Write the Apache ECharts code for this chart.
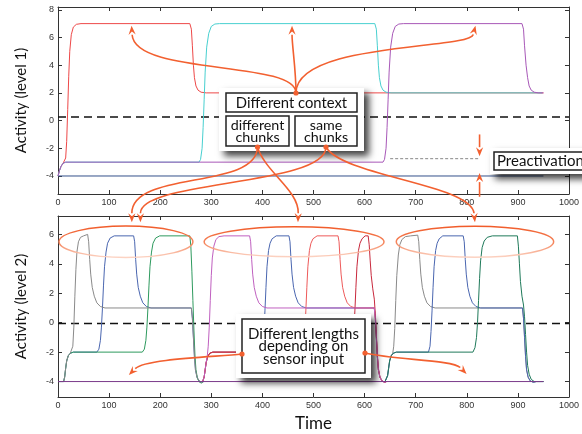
<!DOCTYPE html>
<html><head><meta charset="utf-8">
<script src="https://cdn.jsdelivr.net/npm/echarts@6/dist/echarts.min.js"></script>
<style>html,body{margin:0;padding:0;background:#fff}#main{width:582px;height:434px}</style>
</head><body><div id="main"></div><script>
// ---------- data ----------
const level1Ticks = [-4, -2, 0, 2, 4, 6, 8];
const level2Ticks = [-4, -2, 0, 2, 4, 6];

// Level 1 activity
const L1_blue = [[0,-4],[950,-4]];
const L1_red = [[0,-4],[3,-3.6],[6,-3.3],[10,-3.08],[13,-3.0],[15,-2.7],[17,-1.5],[19,0.8],[21,3.2],[23,5],[26,6.2],[30,6.75],[36,6.95],[45,7],[258,7],[261,6.6],[263,5.4],[265,4],[267,3.1],[270,2.5],[274,2.2],[280,2.05],[290,2],[950,2]];
const L1_cyan = [[0,-4],[3,-3.6],[6,-3.3],[10,-3.08],[15,-3],[276,-3],[279,-2.8],[282,-2],[284,-0.5],[286,1.5],[288,3.5],[291,5.3],[295,6.3],[300,6.8],[307,6.97],[316,7],[620,7],[623,6.6],[625,5.4],[627,4],[629,3.1],[632,2.5],[636,2.2],[642,2.05],[652,2],[948,2]];
const L1_purple = [[0,-4],[3,-3.6],[6,-3.3],[10,-3.08],[15,-3],[636,-3],[639,-2.8],[642,-2],[644,-0.5],[646,1.5],[648,3.5],[651,5.3],[655,6.3],[660,6.8],[667,6.97],[676,7],[908,7],[911,6.6],[913,5.4],[916,4],[919,3.1],[922,2.5],[926,2.2],[932,2.05],[940,2],[950,2]];
const L1_threshold = [[0,0.25],[1000,0.25]];
const L1_preactivation = [[650,-2.75],[824,-2.75]];

// Level 2 activity, chunk group 1
const L2_g1_blue = [[0,-4],[11,-4],[13,-3.7],[15,-3.1],[17,-2.6],[20,-2.25],[24,-2.08],[30,-2],[76,-2],[80,-1.8],[83,-1.2],[85,-0.3],[87,1],[89,2.5],[91,3.8],[94,4.8],[97,5.4],[102,5.75],[110,5.9],[148,5.9],[150,5.5],[152,4.3],[154,3.3],[157,2.4],[161,1.8],[166,1.35],[173,1.1],[182,1],[261,1],[263,0.3],[265,-1],[267,-2.3],[269,-3.2],[272,-3.7],[276,-3.95],[281,-4.05],[285,-4]];
const L2_g1_green = [[0,-4],[11,-4],[13,-3.7],[15,-3.1],[17,-2.6],[20,-2.25],[24,-2.08],[30,-2],[165,-2],[169,-1.8],[172,-1.2],[174,-0.3],[176,1],[178,2.5],[180,3.8],[183,4.8],[186,5.4],[191,5.75],[199,5.9],[258,5.9],[260,5.2],[262,3.5],[264,1.5],[266,-0.5],[268,-2.2],[270,-3.2],[273,-3.8],[277,-4.05],[281,-4.1],[285,-4]];
const L2_g1_gray = [[0,-4],[11,-4],[13,-3.7],[15,-3.1],[17,-2.6],[20,-2.25],[24,-2.08],[27,-2],[29,-1.6],[31,-0.3],[33,1.8],[35,3.6],[37,4.8],[40,5.5],[44,5.8],[50,5.9],[58,6],[60,5.5],[62,4.3],[64,3.3],[67,2.4],[71,1.8],[76,1.35],[83,1.1],[92,1],[261,1],[263,0.3],[265,-1],[267,-2.3],[269,-3.2],[272,-3.7],[276,-3.95],[281,-4.05],[285,-4]];
// group 2
const L2_g2_blue = [[283,-4],[286,-3.7],[288,-3.2],[290,-2.7],[293,-2.3],[297,-2.08],[303,-2],[398,-2],[401,-1.6],[403,-0.6],[405,0.8],[407,2.4],[409,3.8],[412,4.9],[415,5.4],[419,5.7],[427,5.9],[452,5.9],[454,5.5],[456,4.3],[458,3.3],[461,2.4],[465,1.8],[470,1.35],[477,1.1],[486,1],[619,1],[621,0.3],[623,-1],[625,-2.3],[627,-3.2],[630,-3.7],[634,-3.95],[639,-4.05],[643,-4]];
const L2_g2_red = [[283,-4],[286,-3.7],[288,-3.2],[290,-2.7],[293,-2.3],[297,-2.08],[303,-2],[478,-2],[481,-1.6],[483,-0.6],[485,0.8],[487,2.4],[489,3.8],[492,4.9],[495,5.4],[499,5.7],[507,5.9],[548,5.9],[550,5.5],[552,4.3],[554,3.3],[557,2.4],[561,1.8],[566,1.35],[573,1.1],[582,1],[619,1],[621,0.3],[623,-1],[625,-2.3],[627,-3.2],[630,-3.7],[634,-3.95],[639,-4.05],[643,-4]];
const L2_g2_crimson = [[283,-4],[286,-3.7],[288,-3.2],[290,-2.7],[293,-2.3],[297,-2.08],[303,-2],[574,-2],[577,-1.6],[579,-0.6],[581,0.8],[583,2.4],[585,3.8],[588,4.9],[591,5.4],[595,5.7],[601,5.9],[607,5.9],[609,5.3],[611,4.2],[613,3.2],[616,2.3],[619,1.6],[621,0.6],[623,-0.8],[625,-2.2],[627,-3.1],[630,-3.7],[634,-3.95],[639,-4.05],[643,-4]];
const L2_g2_magenta = [[283,-4],[286,-3.7],[288,-3.2],[290,-2.7],[292,-2.3],[294,-1.6],[296,-0.3],[298,1.5],[300,3.2],[302,4.4],[305,5.2],[309,5.65],[315,5.85],[325,5.9],[375,5.9],[377,5.5],[379,4.3],[381,3.3],[384,2.4],[388,1.8],[393,1.35],[400,1.1],[409,1],[619,1],[621,0.3],[623,-1],[625,-2.3],[627,-3.2],[630,-3.7],[634,-3.95],[639,-4.05],[643,-4]];
// group 3
const L2_g3_gray = [[640,-4],[643,-3.9],[645,-3.6],[647,-3.1],[649,-2.6],[652,-2.25],[655,-2.1],[657,-1.6],[659,-0.4],[661,1.5],[663,3.2],[666,4.6],[669,5.3],[673,5.65],[680,5.85],[690,5.9],[704,5.95],[706,5.5],[708,4.3],[710,3.3],[713,2.4],[717,1.8],[722,1.35],[729,1.1],[738,1],[909,1],[911,0.3],[913,-1],[915,-2.3],[917,-3.2],[920,-3.7],[924,-3.95],[930,-4.05],[936,-4],[950,-4]];
const L2_g3_blue = [[640,-4],[643,-3.9],[645,-3.6],[647,-3.1],[649,-2.6],[652,-2.25],[656,-2.08],[662,-2],[725,-2],[728,-1.6],[730,-0.6],[732,0.8],[734,2.4],[736,3.8],[739,4.9],[742,5.4],[746,5.7],[753,5.9],[793,5.9],[795,5.5],[797,4.3],[799,3.3],[802,2.4],[806,1.8],[811,1.35],[818,1.1],[827,1],[909,1],[911,0.3],[913,-1],[915,-2.3],[917,-3.2],[920,-3.7],[924,-3.95],[930,-4.05],[936,-4],[950,-4]];
const L2_g3_green = [[640,-4],[643,-3.9],[645,-3.6],[647,-3.1],[649,-2.6],[652,-2.25],[656,-2.08],[662,-2],[812,-2],[816,-1.7],[819,-1],[821,0],[823,1.5],[825,3],[827,4.2],[830,5.1],[834,5.55],[840,5.8],[850,5.9],[899,5.9],[901,5.2],[903,4],[905,2.8],[908,1.8],[911,1.2],[913,0.4],[915,-0.8],[917,-2],[919,-2.9],[922,-3.5],[926,-3.85],[932,-4],[950,-4]];
const L2_purple = [[0,-4],[950,-4]];
const L2_threshold = [[0,-0.05],[1000,-0.05]];

// ---------- chart ----------
const chart = echarts.init(document.getElementById('main'));
const AX = '#333';
const tickFont = {fontSize: 9, color: '#333', fontFamily: 'Liberation Sans, Arial, sans-serif', formatter: v => String(v)};
function xAx(grid, pos, labels) {
  return {gridIndex: grid, type: 'value', position: pos, min: 0, max: 1000, interval: 100,
    axisLine: {show: true, onZero: false, lineStyle: {color: AX, width: 1}},
    axisTick: {show: true, inside: true, length: 4, lineStyle: {color: AX}},
    axisLabel: Object.assign({show: labels, margin: 4}, tickFont),
    splitLine: {show: false}};
}
function yAx(grid, pos, labels, min, max, ticks, name) {
  return {gridIndex: grid, type: 'value', position: pos, min: min, max: max,
    axisLine: {show: true, onZero: false, lineStyle: {color: AX, width: 1}},
    axisTick: {show: true, inside: true, length: 4, lineStyle: {color: AX}, customValues: ticks},
    axisLabel: Object.assign({show: labels, margin: 4, customValues: ticks}, tickFont),
    splitLine: {show: false},
    name: name || '', nameLocation: 'middle', nameGap: 29,
    nameTextStyle: {fontSize: 15, color: '#111', fontFamily: 'Lato, sans-serif'}};
}
function ln(data, color, xi, yi, style) {
  return {type: 'line', data: data, xAxisIndex: xi, yAxisIndex: yi, symbol: 'none', silent: true,
    animation: false, lineStyle: Object.assign({color: color, width: 1}, style || {})};
}
const xa2 = xAx(1, 'bottom', true);
xa2.name = 'Time'; xa2.nameLocation = 'middle'; xa2.nameGap = 18;
xa2.nameTextStyle = {fontSize: 17, color: '#111', fontFamily: 'Lato, sans-serif'};

chart.setOption({
  animation: false,
  backgroundColor: '#fff',
  grid: [{left: 58, top: 7, width: 519, height: 187}, {left: 58, top: 216, width: 519, height: 181}],
  xAxis: [xAx(0, 'bottom', true), xAx(0, 'top', false), xa2, xAx(1, 'top', false)],
  yAxis: [yAx(0, 'left', true, -5.3, 8.2, level1Ticks, 'Activity (level 1)'),
          yAx(0, 'right', false, -5.3, 8.2, level1Ticks),
          yAx(1, 'left', true, -5.05, 7.25, level2Ticks, 'Activity (level 2)'),
          yAx(1, 'right', false, -5.05, 7.25, level2Ticks)],
  series: [
    ln(L1_threshold, '#111', 0, 0, {width: 1.5, type: [8, 5]}),
    ln(L1_preactivation, '#888', 0, 0, {width: 1, type: [3, 2]}),
    ln(L1_blue, '#34508a', 0, 0),
    ln(L1_red, '#ee4848', 0, 0),
    ln(L1_cyan, '#48d0d0', 0, 0),
    ln(L1_purple, '#a858b8', 0, 0),
    ln(L2_threshold, '#111', 2, 2, {width: 1.5, type: [8, 5]}),
    ln(L2_g1_blue, '#4a66b0', 2, 2),
    ln(L2_g1_green, '#2e9a5e', 2, 2),
    ln(L2_g1_gray, '#8a8a8a', 2, 2),
    ln(L2_g2_blue, '#4a66b0', 2, 2),
    ln(L2_g2_red, '#ee5a5a', 2, 2),
    ln(L2_g2_crimson, '#c8283c', 2, 2),
    ln(L2_g2_magenta, '#c060c0', 2, 2),
    ln(L2_g3_gray, '#8a8a8a', 2, 2),
    ln(L2_g3_blue, '#4a66b0', 2, 2),
    ln(L2_g3_green, '#1f7a5a', 2, 2),
    ln(L2_purple, '#7a3a8a', 2, 2)
  ]
});

// ---------- annotations ----------
const OR = '#f26030';
const T1 = p => chart.convertToPixel({xAxisIndex: 0, yAxisIndex: 0}, p);
const T2 = p => chart.convertToPixel({xAxisIndex: 2, yAxisIndex: 2}, p);
const G = [];
function arrow(p0, c1, c2, p3) {
  const ang = Math.atan2(p3[1] - c2[1], p3[0] - c2[0]);
  const L = 9, W = 3.6;
  const bx = p3[0] - L * Math.cos(ang), by = p3[1] - L * Math.sin(ang);
  const nx = -Math.sin(ang) * W, ny = Math.cos(ang) * W;
  G.push({type: 'bezierCurve', z: 60, silent: true,
    shape: {x1: p0[0], y1: p0[1], cpx1: c1[0], cpy1: c1[1], cpx2: c2[0], cpy2: c2[1], x2: bx, y2: by},
    style: {stroke: OR, lineWidth: 1.6, fill: null}});
  G.push({type: 'polygon', z: 60, silent: true,
    shape: {points: [[p3[0], p3[1]], [bx + nx, by + ny], [bx + 0.35 * L * Math.cos(ang), by + 0.35 * L * Math.sin(ang)], [bx - nx, by - ny]]},
    style: {fill: OR}});
}
function dot(p) { G.push({type: 'circle', z: 61, silent: true, shape: {cx: p[0], cy: p[1], r: 2.6}, style: {fill: OR}}); }
function panel(x, y, w, h) {
  G.push({type: 'rect', z: 50, silent: true, shape: {x: x, y: y, width: w, height: h},
    style: {fill: '#fff', shadowBlur: 7, shadowOffsetX: 5, shadowOffsetY: 5, shadowColor: 'rgba(0,0,0,0.75)'}});
}
function box(x, y, w, h, text, fs, lh, align) {
  G.push({type: 'rect', z: 52, silent: true, shape: {x: x, y: y, width: w, height: h},
    style: {fill: '#fff', stroke: '#222', lineWidth: 1.5}});
  G.push({type: 'text', z: 53, silent: true,
    style: {text: text, x: align === 'left' ? x + 3 : x + w / 2, y: y + h / 2 + 0.5,
      textAlign: align || 'center', textVerticalAlign: 'middle', verticalAlign: 'middle',
      font: fs + 'px Lato, sans-serif', lineHeight: lh, fill: '#111'}});
}
function ellipse(c, rxT, ryV) {
  const pc = T2(c), pe = T2([c[0] + rxT, c[1] + ryV]);
  const rx = pe[0] - pc[0], ry = pc[1] - pe[1];
  G.push({type: 'ellipse', z: 40, silent: true, shape: {cx: pc[0], cy: pc[1], rx: rx, ry: ry},
    style: {fill: null, lineWidth: 1.5, stroke: {type: 'linear', x: 0, y: 0, x2: 0, y2: 1,
      colorStops: [{offset: 0, color: '#f05522'}, {offset: 0.55, color: '#f58860'}, {offset: 1, color: '#fde0d4'}]}}});
}

// ellipses around level-2 chunk sequences
ellipse([133, 5.5], 131, 1.07);
ellipse([462, 5.5], 176, 1.02);
ellipse([816, 5.5], 154, 1.05);

// "Different context" block
panel(219, 88, 145, 63);
box(226, 93, 131, 19, 'Different context', 14.8, 14);
box(226, 116, 63, 30, 'different\nchunks', 14.3, 12.5);
box(295, 116, 62, 30, 'same\nchunks', 14.3, 12.5);
const D0 = [296, 93], D1 = [257.5, 147], D2 = [326, 147];
{
  const a = T1([144, 6.85]), b = T1([458, 6.85]), c = T1([817, 6.85]);
  arrow(D0, [296, 60], [a[0] + 3, a[1] + 50], a);
  arrow(D0, [296, 70], [b[0], b[1] + 20], b);
  arrow(D0, [296, 42], [c[0] - 6, c[1] + 24], c);
  const e1 = T2([144.5, 6.83]), e2 = T2([469.6, 6.83]), e3 = T2([161.3, 6.83]), e4 = T2([816, 6.83]);
  arrow(D1, [257, 190], [e1[0], e1[1] - 52], e1);
  arrow(D1, [265, 172], [e2[0] + 1, e2[1] - 32], e2);
  arrow(D2, [326, 186], [e3[0], e3[1] - 42], e3);
  arrow(D2, [342, 176], [e4[0] - 4, e4[1] - 38], e4);
}
dot(D0); dot(D1); dot(D2);

// Preactivation
panel(490, 148, 100, 26);
box(494, 152, 96, 18, 'Preactivation', 15, 14, 'left');
{
  const t1 = T1([825, -2.57]), s1 = T1([825, -1.0]);
  const t2 = T1([825, -3.79]), s2 = T1([825, -5.5]);
  arrow(s1, s1, [t1[0], t1[1] - 10], t1);
  arrow(s2, s2, [t2[0], t2[1] + 10], t2);
}

// Different lengths
panel(236, 314, 135, 64);
box(242, 319, 123, 54, 'Different lengths\ndepending on\nsensor input', 15, 12.8);
const DL = [242, 354], DR = [365, 353];
{
  const l = T2([138.7, -3.55]), r = T2([799.6, -3.48]);
  arrow(DL, [212, 357], [l[0] + 16, l[1] - 16], l);
  arrow(DR, [395, 360], [r[0] - 14, r[1] - 14], r);
}
dot(DL); dot(DR);

chart.setOption({graphic: G});
</script></body></html>
